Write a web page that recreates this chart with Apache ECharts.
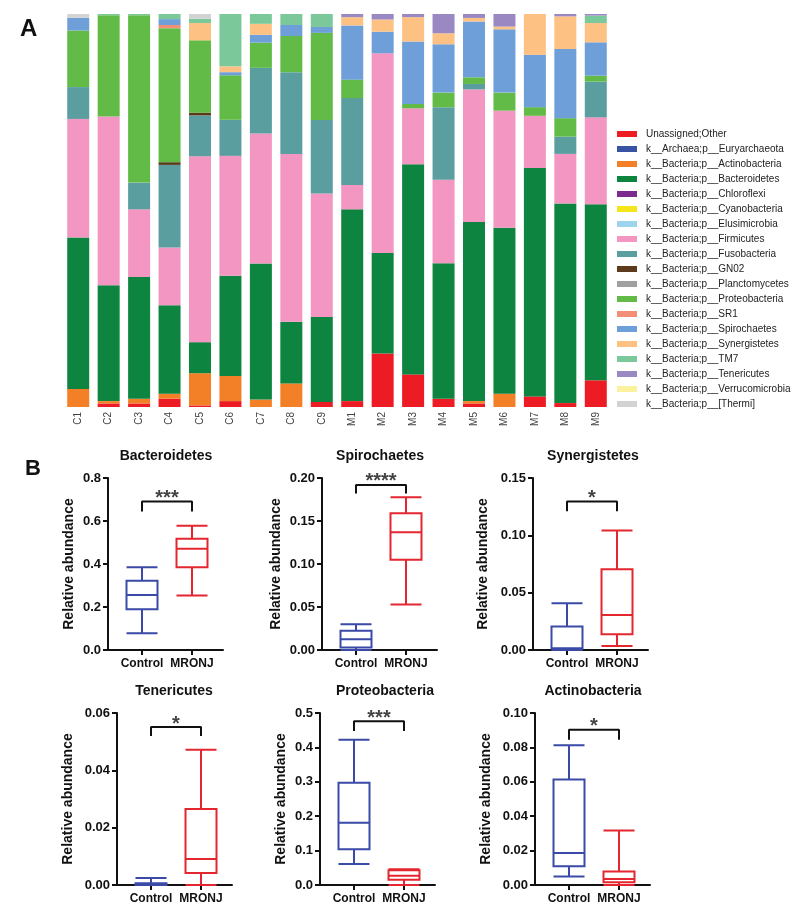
<!DOCTYPE html>
<html>
<head>
<meta charset="utf-8">
<script src="https://cdn.jsdelivr.net/npm/echarts@6/dist/echarts.min.js"></script>
<style>
html,body{margin:0;padding:0;background:#fff;}
#main{width:800px;height:911px;}
</style>
</head>
<body>
<div id="main"></div>
<script>
// ---- panel A : relative abundance (%) per sample ----
var samples = ["C1","C2","C3","C4","C5","C6","C7","C8","C9","M1","M2","M3","M4","M5","M6","M7","M8","M9"];

var taxa = ["Unassigned;Other","k__Archaea;p__Euryarchaeota","k__Bacteria;p__Actinobacteria",
	"k__Bacteria;p__Bacteroidetes","k__Bacteria;p__Chloroflexi","k__Bacteria;p__Cyanobacteria",
	"k__Bacteria;p__Elusimicrobia","k__Bacteria;p__Firmicutes","k__Bacteria;p__Fusobacteria",
	"k__Bacteria;p__GN02","k__Bacteria;p__Planctomycetes","k__Bacteria;p__Proteobacteria",
	"k__Bacteria;p__SR1","k__Bacteria;p__Spirochaetes","k__Bacteria;p__Synergistetes",
	"k__Bacteria;p__TM7","k__Bacteria;p__Tenericutes","k__Bacteria;p__Verrucomicrobia",
	"k__Bacteria;p__[Thermi]"];

var taxaColors = ["#ED1C24","#3953A4","#F37F26","#0E8441","#7B2A8E","#F4E61A","#9DD3EC","#F396C1",
	"#5A9E9F","#5C3B1C","#A0A0A0","#62BB47","#F48E77","#6F9FD9","#FDC183","#7BC99A","#9A88C2",
	"#FBF29E","#D3D3D3"];

var unassigned      = [0, 0.9, 0.9, 2.1, 0.4, 1.5, 0, 0, 1.3, 1.5, 13.6, 8.3, 2.1, 0.9, 0, 2.7, 1.0, 6.8];
var euryarchaeota   = [0, 0, 0, 0, 0, 0, 0, 0, 0, 0, 0, 0, 0, 0, 0, 0, 0, 0];
var actinobacteria  = [4.6, 0.6, 1.2, 1.3, 8.2, 6.4, 1.9, 6.0, 0, 0, 0, 0, 0, 0.6, 3.4, 0, 0, 0];
var bacteroidetes   = [38.5, 29.5, 31.0, 22.5, 7.9, 25.5, 34.6, 15.7, 21.6, 48.8, 25.6, 53.5, 34.5, 45.6, 42.2, 58.1, 50.8, 44.8];
var chloroflexi     = [0, 0, 0, 0, 0, 0, 0, 0, 0, 0, 0, 0, 0, 0, 0, 0, 0, 0];
var cyanobacteria   = [0, 0, 0, 0, 0, 0, 0, 0, 0, 0, 0, 0, 0, 0, 0, 0, 0, 0];
var elusimicrobia   = [0, 0, 0, 0, 0, 0, 0, 0, 0, 0, 0, 0, 0, 0, 0, 0, 0, 0];
var firmicutes      = [30.2, 42.9, 17.2, 14.7, 47.3, 30.5, 33.1, 42.7, 31.4, 6.2, 50.8, 14.2, 21.2, 33.7, 29.8, 13.3, 12.6, 22.1];
var fusobacteria    = [8.1, 0, 6.8, 21.0, 10.4, 9.2, 16.7, 20.8, 18.7, 22.1, 0, 0, 18.5, 1.4, 0, 0, 4.4, 9.1];
var gn02            = [0, 0, 0, 0.7, 0.7, 0, 0, 0, 0, 0, 0, 0, 0, 0, 0, 0, 0, 0];
var planctomycetes  = [0, 0, 0, 0, 0, 0, 0, 0, 0, 0, 0, 0, 0, 0, 0, 0, 0, 0];
var proteobacteria  = [14.4, 25.8, 42.6, 34.1, 18.4, 11.3, 6.4, 9.2, 22.2, 4.7, 0, 1.1, 3.7, 1.7, 4.6, 2.2, 4.7, 1.5];
var sr1             = [0, 0, 0, 0.8, 0, 0, 0, 0, 0, 0, 0, 0, 0, 0, 0, 0, 0, 0];
var spirochaetes    = [3.2, 0, 0, 1.5, 0, 0.8, 2.0, 2.8, 1.5, 13.8, 5.5, 15.9, 12.3, 14.2, 16.1, 13.3, 17.6, 8.5];
var synergistetes   = [0, 0, 0, 0, 4.4, 1.5, 2.8, 0, 0, 2.1, 3.1, 6.2, 2.8, 0.9, 0.7, 10.4, 8.3, 4.9];
var tm7             = [0, 0.3, 0.3, 1.3, 1.1, 13.3, 2.5, 2.8, 3.3, 0, 0, 0, 0, 0, 0, 0, 0, 1.9];
var tenericutes     = [0, 0, 0, 0, 0, 0, 0, 0, 0, 0.8, 1.4, 0.8, 4.9, 1.0, 3.2, 0, 0.6, 0.4];
var verrucomicrobia = [0, 0, 0, 0, 0, 0, 0, 0, 0, 0, 0, 0, 0, 0, 0, 0, 0, 0];
var thermi          = [1.0, 0, 0, 0, 1.2, 0, 0, 0, 0, 0, 0, 0, 0, 0, 0, 0, 0, 0];

var abundance = [unassigned, euryarchaeota, actinobacteria, bacteroidetes, chloroflexi, cyanobacteria,
	elusimicrobia, firmicutes, fusobacteria, gn02, planctomycetes, proteobacteria, sr1, spirochaetes,
	synergistetes, tm7, tenericutes, verrucomicrobia, thermi];

// ---- panel B : boxplots [min, Q1, median, Q3, max] ----
var groups = ["Control","MRONJ"];
var boxTitles = ["Bacteroidetes","Spirochaetes","Synergistetes","Tenericutes","Proteobacteria","Actinobacteria"];
var controlBox = [
	[0.078, 0.190, 0.256, 0.322, 0.385],
	[0.000, 0.003, 0.0124, 0.0225, 0.030],
	[0.000, 0.001, 0.0015, 0.0204, 0.0408],
	[0.000, 0.000, 0.0003, 0.0006, 0.0024],
	[0.061, 0.104, 0.181, 0.297, 0.422],
	[0.005, 0.0109, 0.0186, 0.0614, 0.0812]
];
var mronjBox = [
	[0.253, 0.385, 0.471, 0.517, 0.578],
	[0.053, 0.105, 0.137, 0.159, 0.1775],
	[0.0035, 0.0137, 0.0306, 0.0705, 0.1043],
	[0.000, 0.0042, 0.0091, 0.0265, 0.0472],
	[0.000, 0.015, 0.027, 0.043, 0.046],
	[0.000, 0.0016, 0.0035, 0.0078, 0.0317]
];
var yMax = [0.8, 0.2, 0.15, 0.06, 0.5, 0.1];
var yStep = [0.2, 0.05, 0.05, 0.02, 0.1, 0.02];
var yDecimals = [1, 2, 2, 2, 1, 2];
var signif = ["***","****","*","*","***","*"];
var bracketTop = [0.691, 0.192, 0.1296, 0.0551, 0.476, 0.0903];
var bracketLeg = [0.644, 0.182, 0.121, 0.052, 0.448, 0.0845];

// layout of the six small plots
var boxGrids = [
	{left:108, top:478, nameGap:32, titleX:166, titleY:449},
	{left:322, top:478, nameGap:39, titleX:380, titleY:449},
	{left:533, top:478, nameGap:43, titleX:593, titleY:449},
	{left:117, top:713, nameGap:42, titleX:174, titleY:684},
	{left:320, top:713, nameGap:32, titleX:385, titleY:684},
	{left:535, top:713, nameGap:42, titleX:593, titleY:684}
];

var FONT = "Liberation Sans, Arial, sans-serif";
var BLUE = "#3A4AA6", RED = "#E3262F", INK = "#111";

var option = {
	animation:false,
	textStyle:{fontFamily:FONT},
	title:[
		{text:"A", left:20, top:17, padding:0, textStyle:{fontSize:24, fontWeight:"bold", color:INK, fontFamily:FONT}},
		{text:"B", left:25, top:458, padding:0, textStyle:{fontSize:22, fontWeight:"bold", color:INK, fontFamily:FONT}}
	],
	legend:{
		data:taxa, orient:"vertical", left:617, top:128, padding:0,
		itemWidth:20, itemHeight:6, itemGap:3, icon:"rect",
		textStyle:{fontSize:10, color:"#222", lineHeight:12, padding:[0,0,0,4], fontFamily:FONT}
	},
	grid:[{left:63, top:14, width:548, height:393}],
	xAxis:[{
		type:"category", data:samples, gridIndex:0,
		axisLine:{show:false}, axisTick:{show:false},
		axisLabel:{rotate:90, fontSize:10, color:"#444", margin:5, fontFamily:FONT}
	}],
	yAxis:[{type:"value", gridIndex:0, min:0, max:100, show:false}],
	series:[]
};

taxa.forEach(function(name, i){
	option.series.push({
		name:name, type:"bar", stack:"total", barWidth:22,
		xAxisIndex:0, yAxisIndex:0,
		itemStyle:{color:taxaColors[i]},
		data:abundance[i], silent:true
	});
});

boxGrids.forEach(function(g, i){
	var k = i + 1;
	option.grid.push({left:g.left, top:g.top, width:115, height:172});
	option.title.push({
		text:boxTitles[i], left:g.titleX, top:g.titleY, textAlign:"center", padding:0,
		textStyle:{fontSize:14, fontWeight:"bold", color:INK, fontFamily:FONT}
	});
	option.xAxis.push({
		type:"value", gridIndex:k, min:-0.68, max:1.62,
		splitLine:{show:false},
		axisLine:{show:true, onZero:false, lineStyle:{color:INK, width:2}},
		axisTick:{show:true, customValues:[0,1], length:5, lineStyle:{color:INK, width:2}},
		axisLabel:{customValues:[0,1], margin:8, fontSize:12, fontWeight:"bold", color:INK, fontFamily:FONT,
			formatter:function(v){ return groups[Math.round(v)] || ""; }}
	});
	option.yAxis.push({
		type:"value", gridIndex:k, min:0, max:yMax[i], interval:yStep[i],
		name:"Relative abundance", nameLocation:"middle", nameGap:g.nameGap,
		nameTextStyle:{fontSize:14, fontWeight:"bold", color:INK, fontFamily:FONT},
		splitLine:{show:false},
		axisLine:{show:true, onZero:false, lineStyle:{color:INK, width:2}},
		axisTick:{show:true, length:5, lineStyle:{color:INK, width:2}},
		axisLabel:{margin:7, fontSize:13, fontWeight:"bold", color:INK, fontFamily:FONT,
			formatter:function(v){ return v.toFixed(yDecimals[i]); }}
	});
	option.series.push({
		type:"boxplot", xAxisIndex:k, yAxisIndex:k, boxWidth:[31,31], silent:true,
		data:[
			{value:[0].concat(controlBox[i]), itemStyle:{color:"#fff", borderColor:BLUE, borderWidth:2}},
			{value:[1].concat(mronjBox[i]), itemStyle:{color:"#fff", borderColor:RED, borderWidth:2}}
		]
	});
	// significance bracket
	option.series.push({
		type:"line", xAxisIndex:k, yAxisIndex:k, symbol:"none", silent:true,
		lineStyle:{color:INK, width:2},
		data:[[0, bracketLeg[i]], [0, bracketTop[i]], [1, bracketTop[i]], [1, bracketLeg[i]]]
	});
	option.series.push({
		type:"scatter", xAxisIndex:k, yAxisIndex:k, symbolSize:1, silent:true,
		itemStyle:{color:"rgba(0,0,0,0)"},
		label:{show:true, position:"inside", offset:[0,-3], formatter:signif[i],
			fontSize:20, fontWeight:"bold", color:INK, fontFamily:FONT},
		data:[[0.5, bracketTop[i]]]
	});
});

var myChart = echarts.init(document.getElementById("main"));
myChart.setOption(option);
</script>
</body>
</html>
